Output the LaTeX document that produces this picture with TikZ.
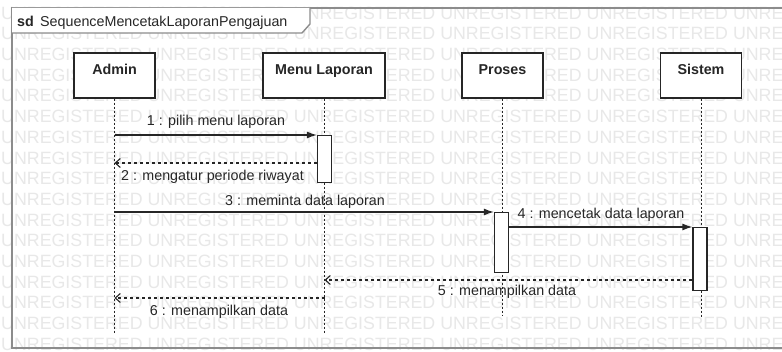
\documentclass[tikz,border=0pt]{standalone}
\usepackage{fontspec}
\setmainfont{Liberation Sans}
\usetikzlibrary{arrows.meta}
\definecolor{wmark}{HTML}{E8E8E8}
\definecolor{framegray}{HTML}{8C8C8C}
\definecolor{ink}{HTML}{262626}
\begin{document}
\begin{tikzpicture}[x=1pt,y=-1pt,
  every node/.style={text=ink},
  lbl/.style={font=\fontsize{14.3pt}{17pt}\selectfont, inner sep=0pt, anchor=base},
  wm/.style={font=\fontsize{17.8pt}{20pt}\selectfont, text=wmark, inner sep=0pt, anchor=west},
  headbox/.style={draw=ink, line width=1.3pt, fill=white, minimum width=81pt,
    minimum height=45pt, inner sep=0pt, font=\fontsize{14.3pt}{17pt}\selectfont\bfseries,
    text height=10.5pt, text depth=13.1pt},
  actbar/.style={draw=ink, line width=1.2pt, fill=white, minimum width=14pt,
    inner sep=0pt, anchor=north},
  lifeline/.style={draw=ink, line width=0.9pt, dash pattern=on 2pt off 2pt},
  callmsg/.style={draw=ink, line width=1.3pt, -{Latex[length=10pt,width=7pt]}},
  replymsg/.style={draw=ink, line width=1.1pt, dash pattern=on 3pt off 3pt,
    -{Straight Barb[length=5pt,width=9pt]}},
]
\clip (0,0) rectangle (782,352);
\fill[white] (0,0) rectangle (782,352);

% evaluation-copy stamp in the background
\foreach \k in {0,...,16}{
  \node[wm] (wm\k) at (1,{13+20.7*\k})
    {UNREGISTERED UNREGISTERED UNREGISTERED UNREGISTERED UNREGISTERED UNREGISTERED};
}

% interaction frame and its name tab
\draw[framegray, line width=1.6pt] (12,8) rectangle (800,348);
\fill[white] (12,8) -- (310,8) -- (310,24) -- (302,33) -- (12,33) -- cycle;
\draw[framegray, line width=1.4pt] (12,33) -- (302,33) -- (310,24) -- (310,8);
\node[lbl, anchor=base west, font=\fontsize{14.3pt}{17pt}\selectfont\bfseries] (sdkw) at (17,27) {sd};
\node[lbl, anchor=base west] (sdname) at (40,27) {SequenceMencetakLaporanPengajuan};

% lifeline heads
\node[headbox] (admin)  at (114.5,75.5) {Admin};
\node[headbox, minimum width=122pt] (menu) at (324,75.5) {Menu Laporan};
\node[headbox] (proses) at (502.5,75.5) {Proses};
\node[headbox] (sistem) at (701,75.5) {Sistem};

% lifeline ends
\coordinate (adminEnd)  at (114.5,333);
\coordinate (menuEnd)   at (324.5,333);
\coordinate (prosesEnd) at (502.5,315);
\coordinate (sistemEnd) at (701,318);

\draw[lifeline] (admin.south)  -- (adminEnd);
\draw[lifeline] (menu.south -| menuEnd) -- (menuEnd);
\draw[lifeline] (proses.south) -- (prosesEnd);
\draw[lifeline] (sistem.south) -- (sistemEnd);

% activation bars
\node[actbar, minimum height=47pt] (actMenu)   at (324.5,135) {};
\node[actbar, minimum height=60pt] (actProses) at (501.5,212) {};
\node[actbar, minimum height=63pt] (actSistem) at (700,227) {};

% message rows
\coordinate (r2) at (0,163);
\coordinate (r5) at (0,280);
\coordinate (r6) at (0,298);

% messages
\draw[callmsg]  (admin |- actMenu.north) -- (actMenu.north west);
\draw[replymsg] (actMenu.west |- r2) -- (admin |- r2);
\draw[callmsg]  (admin |- actProses.north) -- (actProses.north west);
\draw[callmsg]  (actProses.east |- actSistem.north) -- (actSistem.north west);
\draw[replymsg] (actSistem.west |- r5) -- (menuEnd |- r5);
\draw[replymsg] (menuEnd |- r6) -- (admin |- r6);

% message labels
\node[lbl] (m1) at (216,126) {1 : pilih menu laporan};
\node[lbl] (m2) at (212.5,181) {2 : mengatur periode riwayat};
\node[lbl] (m3) at (305,206) {3 : meminta data laporan};
\node[lbl] (m4) at (601,219) {4 : mencetak data laporan};
\node[lbl] (m5) at (507,296) {5 : menampilkan data};
\node[lbl] (m6) at (219,316) {6 : menampilkan data};
\end{tikzpicture}
\end{document}
